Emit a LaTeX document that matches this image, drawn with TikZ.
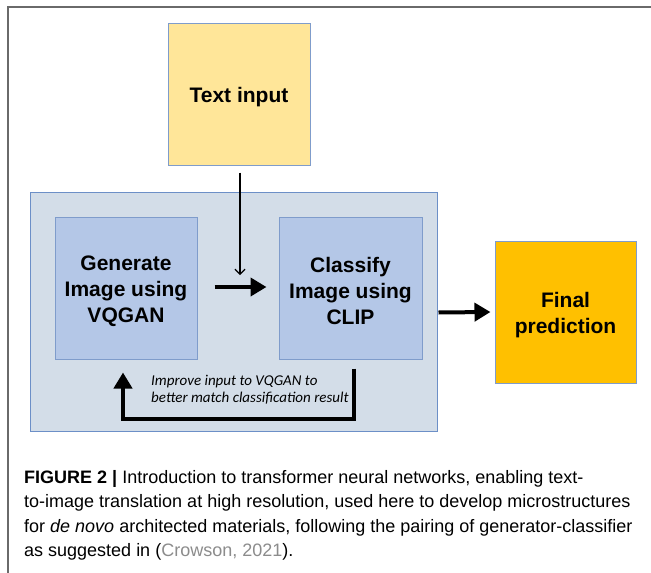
\documentclass[tikz,border=0pt]{standalone}
\usepackage{fontspec}
\setmainfont{Liberation Sans}
\newfontfamily\notefont{Carlito}
\usetikzlibrary{arrows.meta,calc}

\definecolor{framegray}{HTML}{6A6A6A}
\definecolor{inputfill}{HTML}{FFE699}
\definecolor{loopfill}{HTML}{D3DDE8}
\definecolor{stagefill}{HTML}{B4C7E7}
\definecolor{outfill}{HTML}{FFC000}
\definecolor{boxedge}{HTML}{7F9CCB}
\definecolor{loopedge}{HTML}{6C8FC7}
\definecolor{citegray}{HTML}{8C8C8C}

% a tall strut on the first line sets a box's text block a little lower
\newcommand\firststrut{\rule{0pt}{21.5pt}}

\tikzset{
  box/.style={draw=boxedge, line width=1pt, inner sep=0pt, align=center,
    font=\fontsize{21}{26}\selectfont\bfseries},
  loopbox/.style={draw=loopedge, fill=loopfill, line width=1pt, inner sep=0pt},
  thinarrow/.style={-{Straight Barb[length=5pt,width=10pt]}, line width=1.2pt},
  thickarrow/.style={-{Triangle[length=16pt,width=18pt]}, line width=4pt},
  note/.style={font=\notefont\itshape\fontsize{15}{17}\selectfont, align=left, inner sep=0pt},
  captionline/.style={font=\fontsize{18}{24}\selectfont, inner sep=0pt, anchor=base west},
}

\begin{document}
\begin{tikzpicture}[x=1pt, y=-1pt]
  \useasboundingbox (0,0) rectangle (651,573);
  \fill[white] (0,0) rectangle (651,573);
  % page frame (top and left edges)
  \draw[framegray, line width=1.5pt] (8,573) -- (8,7) -- (651,7);

  % boxes
  \node[loopbox, minimum width=407pt, minimum height=239pt] (loop) at (233.5,311.5) {};
  \node[box, fill=inputfill, minimum width=142pt, minimum height=142pt] (textin) at (239,94)
    {\firststrut Text input};
  \node[box, fill=stagefill, minimum width=142pt, minimum height=142pt] (gen) at (126,288)
    {\firststrut Generate\\Image using\\VQGAN};
  \node[box, fill=stagefill, minimum width=143pt, minimum height=142pt] (cls) at (350.5,288)
    {\firststrut Classify\\Image using\\CLIP};
  \node[box, fill=outfill, minimum width=141pt, minimum height=142pt] (final) at (565.5,312)
    {\firststrut Final\\prediction};

  % connectors
  \coordinate (merge) at (240,275);
  \draw[thinarrow] ($(textin.south)+(1,7)$) -- (merge);
  \draw[thickarrow] ($(gen.east)+(17,-1)$) -- ($(cls.west)+(-12,-1)$);
  \draw[thickarrow] ($(loop.east)+(1,1)$) -- ($(final.west)+(-4,0)$);
  \draw[thickarrow] ($(cls.south)+(3.5,9)$) |- ($(gen.south)+(-3,59)$) -- ($(gen.south)+(-3,13)$);

  % feedback label (base anchor sits on the last line)
  \node[note, anchor=base west] (fbnote) at (151,402)
    {Improve input to VQGAN to\\better match classification result};

  % caption
  \node[captionline] (cap1) at (24,483)
    {\textbf{FIGURE 2 |} Introduction to transformer neural networks, enabling text-};
  \node[captionline] (cap2) at (24,507.5)
    {to-image translation at high resolution, used here to develop microstructures};
  \node[captionline] (cap3) at (24,532)
    {for \textit{de novo} architected materials, following the pairing of generator-classifier};
  \node[captionline] (cap4) at (24,556.5)
    {as suggested in (\textcolor{citegray}{Crowson, 2021}).};
\end{tikzpicture}
\end{document}
